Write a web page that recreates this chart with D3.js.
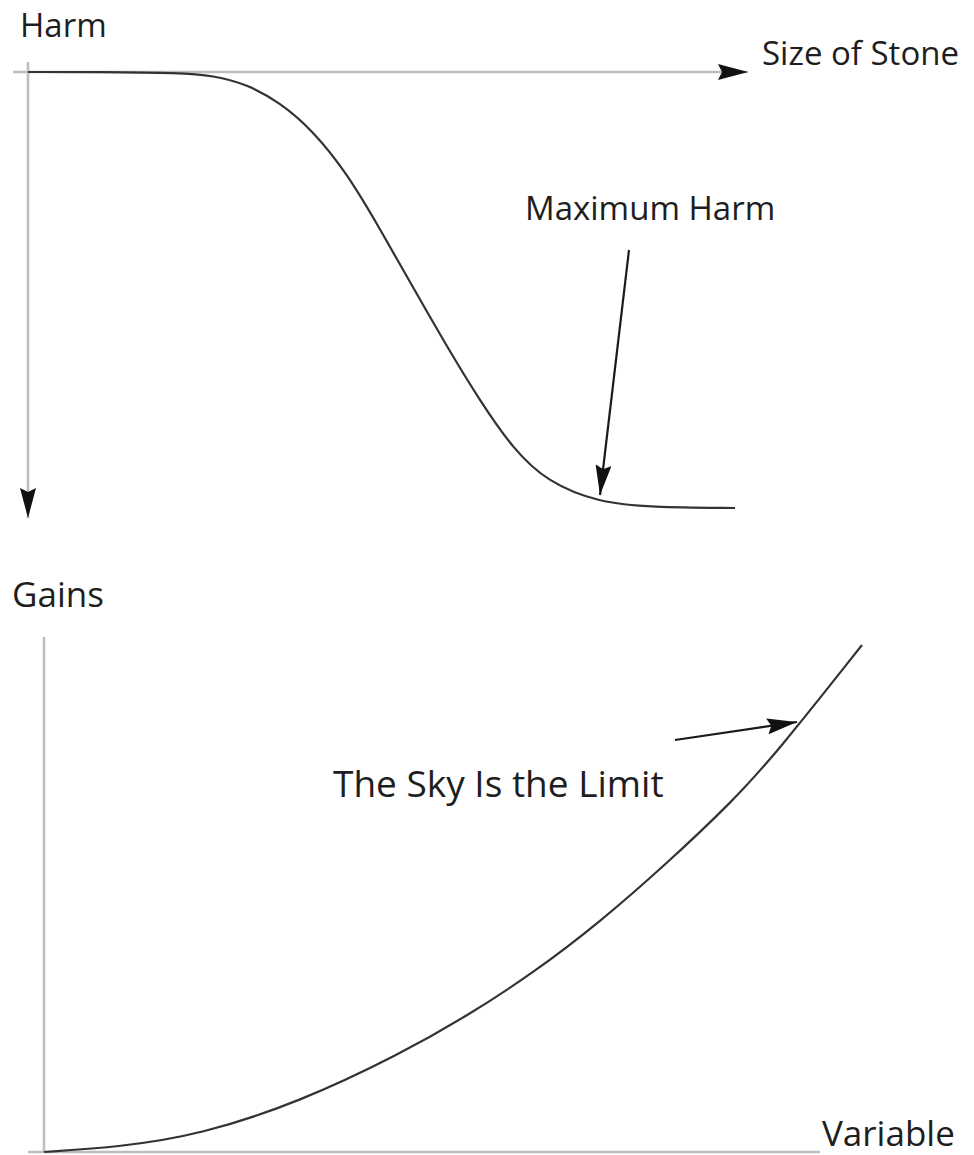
<!DOCTYPE html>
<html>
<head>
<meta charset="utf-8">
<script src="https://cdn.jsdelivr.net/npm/d3@7"></script>
<style>
  html, body { margin: 0; padding: 0; background: #fff; }
  text { font-family: "Open Sans", "Noto Sans", sans-serif; fill: #1e1e1e; }
</style>
</head>
<body>
<div id="root"></div>
<script>
const width = 974;
const height = 1155;

// top panel: harm vs size of stone (harm grows downward)
const stoneSize = [0, 10, 21.1, 25.7, 30.4, 35, 39.6, 44.3, 48.9, 53.5, 58.2, 62.8, 67.4, 72.1, 79.4, 86.4, 98.2];
const harm = [0, 0, 0.2, 0.8, 2.8, 7.0, 13.5, 23.2, 36.0, 49.5, 63.0, 75.5, 86.5, 94.0, 98.8, 99.8, 100];

// bottom panel: gains vs variable
const variable = [0, 9.3, 19.1, 31.3, 43.5, 51.7, 59.8, 68.0, 76.2, 84.2, 89.6, 100];
const gains = [0, 1.0, 3.4, 9.9, 19.3, 26.8, 35.3, 45.4, 57.0, 69.2, 78.8, 100];

const svg = d3.select("#root")
    .append("svg")
    .attr("width", width)
    .attr("height", height)
    .attr("viewBox", [0, 0, width, height]);

const defs = svg.append("defs");

function arrow(id, len, half, notch) {
    defs.append("marker")
        .attr("id", id)
        .attr("markerUnits", "userSpaceOnUse")
        .attr("viewBox", [0, -half, len, half * 2])
        .attr("markerWidth", len)
        .attr("markerHeight", half * 2)
        .attr("refX", len)
        .attr("refY", 0)
        .attr("orient", "auto")
        .append("path")
        .attr("d", `M0,${-half}L${len},0L0,${half}L${notch},0Z`)
        .attr("fill", "#111");
}
arrow("axisHead", 30, 8, 4);
arrow("noteHead", 30, 8, 4);

const xTop = d3.scaleLinear([0, 100], [28, 748]);
const yTop = d3.scaleLinear([0, 100], [72, 508]);
const xBot = d3.scaleLinear([0, 100], [44, 862]);
const yBot = d3.scaleLinear([0, 100], [1152, 645]);

// axes
const axisColor = "#bdbdbd";
svg.append("line")
    .attr("x1", 13).attr("y1", yTop(0))
    .attr("x2", 748).attr("y2", yTop(0))
    .attr("stroke", axisColor).attr("stroke-width", 2.5)
    .attr("marker-end", "url(#axisHead)");
svg.append("line")
    .attr("x1", xTop(0)).attr("y1", 62)
    .attr("x2", xTop(0)).attr("y2", 518)
    .attr("stroke", axisColor).attr("stroke-width", 2.5)
    .attr("marker-end", "url(#axisHead)");
svg.append("line")
    .attr("x1", xBot(0)).attr("y1", 637)
    .attr("x2", xBot(0)).attr("y2", yBot(0))
    .attr("stroke", axisColor).attr("stroke-width", 2.5);
svg.append("line")
    .attr("x1", 28).attr("y1", yBot(0))
    .attr("x2", 820).attr("y2", yBot(0))
    .attr("stroke", axisColor).attr("stroke-width", 2.5);

// curves
const topLine = d3.line()
    .x((d, i) => xTop(stoneSize[i]))
    .y(d => yTop(d))
    .curve(d3.curveBasis);

svg.append("path")
    .attr("d", topLine(harm))
    .attr("fill", "none")
    .attr("stroke", "#333")
    .attr("stroke-width", 2.2);

const botLine = d3.line()
    .x((d, i) => xBot(variable[i]))
    .y(d => yBot(d))
    .curve(d3.curveBasis);

svg.append("path")
    .attr("d", botLine(gains))
    .attr("fill", "none")
    .attr("stroke", "#333")
    .attr("stroke-width", 2.2);

// annotation arrows
svg.append("line")
    .attr("x1", 629).attr("y1", 250)
    .attr("x2", 600).attr("y2", 495)
    .attr("stroke", "#1a1a1a").attr("stroke-width", 2.2)
    .attr("marker-end", "url(#noteHead)");
svg.append("line")
    .attr("x1", 675).attr("y1", 740)
    .attr("x2", 797).attr("y2", 722)
    .attr("stroke", "#1a1a1a").attr("stroke-width", 2.2)
    .attr("marker-end", "url(#noteHead)");

// labels
const labels = [
    { text: "Harm", x: 20, y: 37, size: 33 },
    { text: "Size of Stone", x: 762, y: 65, size: 33 },
    { text: "Maximum Harm", x: 525, y: 220, size: 33 },
    { text: "Gains", x: 12, y: 607, size: 35 },
    { text: "The Sky Is the Limit", x: 333, y: 797, size: 37 },
    { text: "Variable", x: 822, y: 1146, size: 35 },
];

svg.selectAll(".label")
    .data(labels)
    .join("text")
    .classed("label", true)
    .attr("x", d => d.x)
    .attr("y", d => d.y)
    .attr("font-size", d => d.size)
    .text(d => d.text);
</script>
</body>
</html>
